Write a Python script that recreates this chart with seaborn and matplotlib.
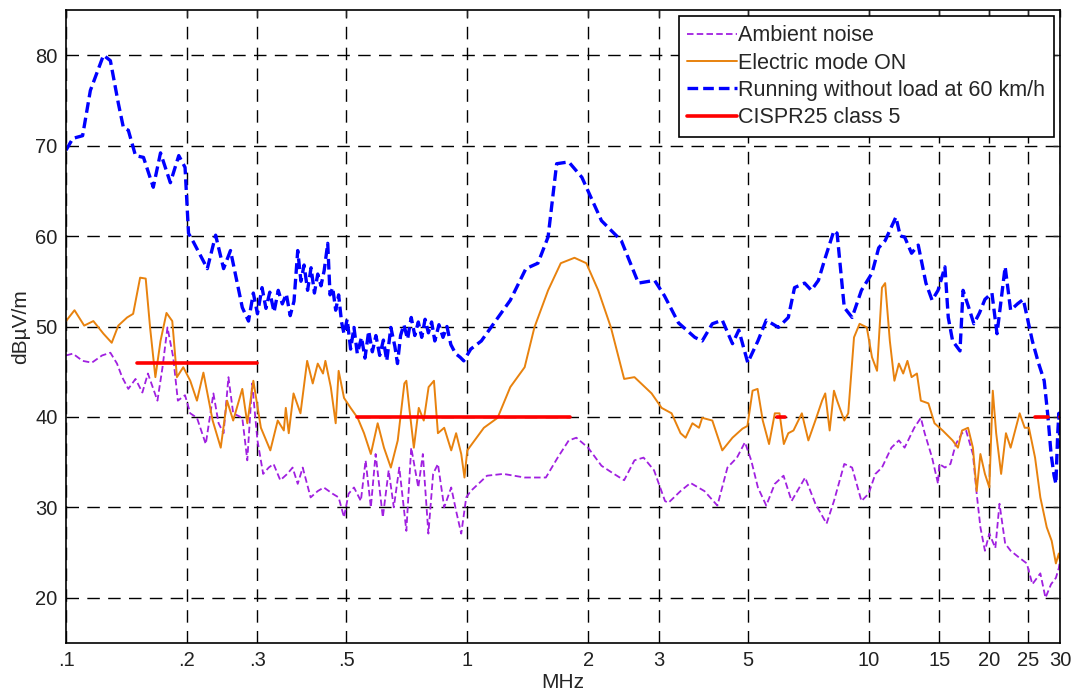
import numpy as np
import pandas as pd
import matplotlib
matplotlib.use("Agg")
import matplotlib.pyplot as plt
import seaborn as sns

# ---------------- data ----------------
amb_f = [0.100, 0.104, 0.110, 0.116, 0.123, 0.129, 0.134, 0.138, 0.143, 0.149, 0.155, 0.160, 0.169, 0.174,
         0.179, 0.185, 0.190, 0.198, 0.204, 0.212, 0.223, 0.233, 0.240, 0.247, 0.254, 0.261, 0.275, 0.283,
         0.291, 0.300, 0.310, 0.320, 0.329, 0.342, 0.356, 0.367, 0.378, 0.389, 0.407, 0.424, 0.439, 0.462,
         0.478, 0.493, 0.506, 0.522, 0.543, 0.558, 0.575, 0.591, 0.616, 0.637, 0.656, 0.677, 0.705, 0.725,
         0.755, 0.775, 0.800, 0.822, 0.845, 0.876, 0.912, 0.938, 0.966, 0.994, 1.02, 1.12, 1.23, 1.39, 1.57,
         1.68, 1.79, 1.87, 2.00, 2.16, 2.32, 2.46, 2.61, 2.75, 2.92, 3.11, 3.17, 3.40, 3.60, 3.90, 4.20, 4.45,
         4.70, 4.92, 5.10, 5.30, 5.56, 5.84, 6.14, 6.43, 6.95, 7.37, 7.86, 8.20, 8.70, 9.10, 9.60, 10.0, 10.4,
         10.8, 11.4, 11.9, 12.3, 13.0, 13.5, 13.8, 14.4, 14.9, 15.0, 15.5, 16.0, 16.5, 17.1, 17.5, 18.2, 18.6,
         19.0, 19.5, 20.0, 20.7, 21.2, 21.9, 22.6, 23.8, 24.8, 25.6, 26.8, 27.6, 28.5, 29.3, 29.8, 30.0]
amb_db = [46.8, 47.0, 46.2, 46.0, 46.8, 47.1, 45.9, 44.4, 43.1, 44.2, 42.7, 44.8, 41.8, 45.5,
          49.9, 46.6, 41.8, 42.4, 40.4, 39.9, 37.0, 42.6, 39.3, 38.2, 44.4, 40.4, 39.9, 35.2,
          43.7, 37.4, 33.7, 34.4, 34.8, 33.0, 33.7, 34.4, 32.6, 34.4, 31.1, 31.8, 32.2, 31.5,
          31.1, 28.9, 31.5, 32.2, 30.7, 35.2, 30.0, 35.9, 28.9, 34.1, 30.0, 34.4, 27.4, 36.6,
          32.2, 35.9, 27.1, 33.7, 34.8, 30.0, 32.2, 29.6, 27.1, 31.1, 31.8, 33.5, 33.7, 33.3, 33.3,
          35.5, 37.4, 37.7, 36.6, 34.6, 33.7, 33.0, 35.2, 35.5, 34.1, 30.7, 30.5, 31.8, 32.7, 31.8, 30.2, 34.4,
          35.5, 37.2, 35.2, 32.2, 30.2, 32.6, 33.5, 30.7, 33.3, 30.4, 28.2, 30.7, 34.8, 34.4, 30.7, 31.5, 33.7,
          34.4, 36.6, 37.4, 36.6, 38.8, 39.9, 38.2, 35.5, 32.6, 34.8, 34.4, 34.8, 37.0, 38.2, 38.5, 35.9, 31.5,
          27.8, 25.2, 27.1, 25.5, 30.4, 26.0, 25.2, 24.4, 23.8, 21.5, 22.7, 20.0, 21.5, 22.2, 23.3, 24.1]

elec_f = [0.100, 0.105, 0.111, 0.117, 0.124, 0.130, 0.135, 0.142, 0.147, 0.153, 0.158, 0.162, 0.167, 0.172,
          0.178, 0.184, 0.189, 0.196, 0.204, 0.212, 0.220, 0.232, 0.243, 0.252, 0.261, 0.275, 0.283, 0.293,
          0.306, 0.323, 0.337, 0.349, 0.353, 0.359, 0.369, 0.384, 0.399, 0.412, 0.424, 0.437, 0.443, 0.457,
          0.470, 0.478, 0.493, 0.512, 0.533, 0.553, 0.575, 0.598, 0.620, 0.645, 0.671, 0.697, 0.705, 0.717,
          0.736, 0.757, 0.779, 0.801, 0.826, 0.845, 0.876, 0.912, 0.938, 0.966, 0.984, 1.00, 1.10, 1.19, 1.28,
          1.39, 1.47, 1.59, 1.71, 1.85, 1.98, 2.12, 2.28, 2.46, 2.61, 2.88, 3.05, 3.23, 3.40, 3.50, 3.64, 3.78,
          3.85, 4.08, 4.32, 4.58, 4.85, 4.99, 5.14, 5.29, 5.45, 5.65, 5.84, 6.00, 6.15, 6.31, 6.50, 6.82, 7.08,
          7.37, 7.66, 7.80, 8.00, 8.20, 8.35, 8.70, 8.90, 9.20, 9.50, 9.90, 10.2, 10.5, 10.8, 11.0, 11.3, 11.6,
          11.9, 12.2, 12.5, 12.8, 13.2, 13.5, 14.1, 14.6, 15.3, 16.2, 16.7, 17.1, 17.7, 18.2, 18.6, 19.0, 19.5,
          20.0, 20.4, 20.8, 21.4, 22.0, 22.6, 23.8, 24.5, 25.1, 26.0, 26.8, 27.8, 28.6, 29.3, 29.8, 30.0]
elec_db = [50.6, 51.8, 50.1, 50.6, 49.2, 48.2, 50.1, 51.0, 51.4, 55.4, 55.3, 49.9, 44.4, 48.4,
           51.5, 50.6, 44.4, 45.5, 44.0, 41.8, 44.9, 39.6, 36.6, 41.8, 39.6, 43.1, 39.3, 44.0,
           38.8, 36.3, 39.6, 38.5, 41.0, 38.2, 42.6, 40.4, 46.2, 43.7, 45.9, 44.8, 46.2, 43.3,
           39.3, 45.1, 42.1, 41.0, 39.9, 38.2, 35.9, 39.3, 36.6, 34.4, 37.4, 43.7, 44.0, 41.0,
           36.6, 41.0, 39.6, 43.3, 44.0, 38.2, 38.8, 36.3, 38.2, 35.9, 33.3, 36.3, 38.8, 39.9, 43.3,
           45.5, 49.9, 54.0, 57.0, 57.6, 57.0, 54.0, 49.9, 44.2, 44.4, 42.6, 41.0, 40.4, 38.2, 37.7, 39.3, 38.8,
           39.9, 39.6, 36.3, 37.7, 38.7, 39.0, 42.9, 43.1, 39.6, 37.0, 40.4, 40.4, 37.0, 38.2, 38.5, 40.4, 37.4,
           39.6, 41.8, 42.6, 38.5, 42.9, 41.8, 39.6, 40.4, 48.8, 50.3, 49.9, 46.6, 45.1, 54.3, 54.8, 48.4, 44.0,
           45.9, 44.8, 46.2, 44.4, 44.8, 41.8, 41.5, 39.3, 38.5, 37.4, 36.6, 38.5, 38.8, 36.6, 31.8, 35.9, 33.7,
           32.2, 42.9, 38.2, 33.7, 38.2, 36.6, 40.4, 38.8, 38.8, 35.5, 31.1, 27.8, 26.3, 23.8, 24.9, 24.1]

run_f = [0.100, 0.104, 0.110, 0.115, 0.120, 0.124, 0.129, 0.135, 0.139, 0.143, 0.149, 0.156, 0.165, 0.172,
         0.182, 0.191, 0.198, 0.202, 0.208, 0.225, 0.236, 0.247, 0.257, 0.275, 0.285, 0.293, 0.300, 0.308,
         0.315, 0.322, 0.330, 0.338, 0.346, 0.354, 0.362, 0.370, 0.378, 0.385, 0.392, 0.400, 0.408, 0.416,
         0.424, 0.432, 0.440, 0.449, 0.455, 0.462, 0.470, 0.478, 0.486, 0.493, 0.502, 0.512, 0.522, 0.532,
         0.545, 0.556, 0.568, 0.580, 0.592, 0.605, 0.618, 0.630, 0.645, 0.660, 0.670, 0.682, 0.695, 0.710,
         0.725, 0.740, 0.755, 0.770, 0.785, 0.800, 0.815, 0.830, 0.850, 0.870, 0.890, 0.910, 0.935, 0.960,
         0.980, 1.02, 1.084, 1.28, 1.40, 1.50, 1.59, 1.67, 1.79, 1.93, 2.16, 2.42, 2.67, 2.93, 3.10, 3.36,
         3.69, 3.85, 4.08, 4.32, 4.58, 4.75, 5.00, 5.30, 5.56, 5.96, 6.31, 6.54, 6.93, 7.20, 7.50, 7.80, 8.20,
         8.35, 8.70, 9.10, 9.60, 10.2, 10.6, 11.0, 11.7, 12.0, 12.3, 12.8, 13.3, 13.9, 14.4, 14.9, 15.5, 15.8,
         16.2, 16.9, 17.2, 17.8, 18.3, 18.9, 19.5, 20.3, 20.9, 21.9, 22.6, 23.5, 24.3, 25.6, 26.5, 27.4, 28.0,
         28.5, 29.0, 29.3, 29.6, 29.8, 30.0]
run_db = [69.5, 70.8, 71.1, 76.1, 78.3, 80.0, 79.4, 74.7, 72.0, 71.7, 68.9, 68.7, 65.4, 69.2,
          65.9, 68.9, 67.6, 60.3, 59.3, 56.4, 60.1, 56.4, 58.4, 52.1, 50.6, 53.7, 51.4, 54.3,
          52.0, 53.8, 51.6, 54.0, 52.5, 53.6, 51.2, 52.8, 58.4, 55.0, 56.8, 54.0, 56.5, 53.7,
          55.8, 54.5, 56.2, 59.2, 53.5, 54.3, 51.8, 53.5, 50.5, 49.2, 50.8, 47.5, 49.9, 47.0,
          48.8, 46.5, 49.5, 47.2, 49.0, 46.8, 48.5, 46.2, 49.9, 47.8, 45.9, 49.0, 50.2, 48.6,
          51.0, 49.0, 50.5, 48.8, 50.8, 49.3, 50.5, 48.4, 50.2, 48.8, 50.0, 48.0, 47.0, 46.6,
          46.2, 47.5, 48.4, 52.9, 56.4, 57.0, 59.9, 68.0, 68.2, 66.5, 61.7, 59.5, 54.8, 55.1, 53.4, 50.4,
          48.8, 48.4, 50.3, 50.7, 48.1, 49.6, 46.0, 48.4, 50.7, 49.9, 51.0, 54.3, 54.8, 54.0, 55.1, 57.6, 60.6,
          60.3, 52.1, 51.0, 54.0, 55.9, 58.7, 59.5, 62.1, 60.0, 59.9, 58.1, 59.0, 54.8, 52.9, 54.0, 56.6, 51.0,
          48.4, 47.3, 54.0, 52.0, 50.3, 51.5, 53.0, 53.7, 49.2, 56.6, 51.8, 52.5, 53.0, 48.4, 46.0, 44.0, 40.0,
          35.9, 33.5, 32.6, 38.0, 40.4, 36.6]

cispr_start = [0.15, 0.53, 5.9, 26.0, 30.0]
cispr_end = [0.30, 1.8, 6.2, 28.0, 54.0]
cispr_level = [46, 40, 40, 40, 40]

x_ticks = [0.1, 0.2, 0.3, 0.5, 1, 2, 3, 5, 10, 15, 20, 25, 30]
x_tick_labels = [".1", ".2", ".3", ".5", "1", "2", "3", "5", "10", "15", "20", "25", "30"]
y_ticks = [20, 30, 40, 50, 60, 70, 80]

# ---------------- plot ----------------
sns.set_style("white")
plt.rcParams['font.family'] = ['Liberation Sans', 'DejaVu Sans']

fig = plt.figure(figsize=(10.77, 6.93), dpi=100)
ax = fig.add_axes([66 / 1077, 50 / 693, (1060 - 66) / 1077, (643 - 10) / 693])

amb = pd.DataFrame({"f": amb_f, "db": amb_db})
ele = pd.DataFrame({"f": elec_f, "db": elec_db})
run = pd.DataFrame({"f": run_f, "db": run_db})

sns.lineplot(data=amb, x="f", y="db", ax=ax, color="#A020E0", lw=1.3,
             linestyle=(0, (3.6, 1.8)), sort=False, estimator=None, label="Ambient noise", legend=False)
sns.lineplot(data=ele, x="f", y="db", ax=ax, color="#E8820E", lw=1.4,
             sort=False, estimator=None, label="Electric mode ON", legend=False)
sns.lineplot(data=run, x="f", y="db", ax=ax, color="#0000FF", lw=2.4,
             linestyle=(0, (3.2, 1.5)), sort=False, estimator=None,
             label="Running without load at 60 km/h", legend=False)
for i, (s, e, l) in enumerate(zip(cispr_start, cispr_end, cispr_level)):
    seg = pd.DataFrame({"f": [s, e], "db": [l, l]})
    sns.lineplot(data=seg, x="f", y="db", ax=ax, color="#FF0000", lw=2.6,
                 sort=False, estimator=None, label="CISPR25 class 5" if i == 0 else None,
                 legend=False)

ax.set_xscale("log")
ax.set_xlim(0.1, 30)
ax.set_ylim(15, 85)
ax.set_xticks(x_ticks)
ax.set_xticklabels(x_tick_labels)
ax.xaxis.set_minor_locator(matplotlib.ticker.NullLocator())
ax.set_yticks(y_ticks)
ax.tick_params(axis="both", which="major", direction="in", length=5, width=1,
               top=True, right=True, labelsize=14.5, labelcolor="#222222", pad=6)
ax.grid(True, which="major", color="black", lw=1.0, linestyle=(0, (9, 6)))
for sp in ax.spines.values():
    sp.set_color("black")
    sp.set_linewidth(1.2)

ax.set_xlabel("MHz", fontsize=15, labelpad=2)
ax.set_ylabel("dBµV/m", fontsize=15, labelpad=4)

handles, labels = ax.get_legend_handles_labels()
leg = ax.legend(handles[:4], labels[:4], loc="upper right", fontsize=15.5, frameon=True,
                fancybox=False, edgecolor="black", framealpha=1, handlelength=2.3,
                handletextpad=0.05, borderaxespad=0.3, labelspacing=0.3, borderpad=0.4)
leg.get_frame().set_linewidth(1.2)

fig.savefig("out.png", dpi=100)
